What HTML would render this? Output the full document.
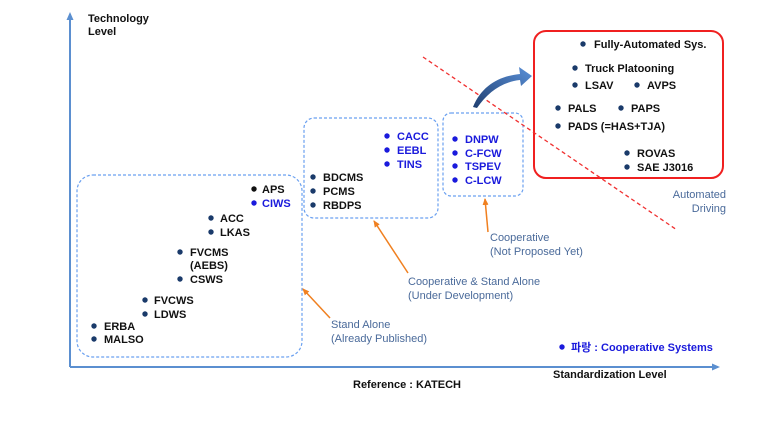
<!DOCTYPE html>
<html><head><meta charset="utf-8"><style>
body{margin:0;background:#fff;}
svg text{font-family:"Liberation Sans","Noto Sans CJK KR",sans-serif;font-weight:bold;font-size:11px;}
.k{fill:#111}.b{fill:#1a1adc}.g{fill:#4a6a9a;font-weight:normal}
</style></head><body>
<svg width="783" height="419" viewBox="0 0 783 419" xmlns="http://www.w3.org/2000/svg">
<defs>
<marker id="ax" markerUnits="userSpaceOnUse" markerWidth="8" markerHeight="8" refX="6" refY="4" orient="auto"><path d="M0,0.5 L8,4 L0,7.5z" fill="#5b8fd0"/></marker>
<marker id="oa" markerUnits="userSpaceOnUse" markerWidth="8" markerHeight="8" refX="6" refY="4" orient="auto"><path d="M0,1 L7,4 L0,7z" fill="#f08020"/></marker>
<linearGradient id="bg" x1="0" y1="1" x2="1" y2="0"><stop offset="0" stop-color="#1f3f70"/><stop offset="1" stop-color="#5a90d8"/></linearGradient>
</defs>
<line x1="70" y1="367" x2="70" y2="14" stroke="#5b8fd0" stroke-width="2" marker-end="url(#ax)"/>
<line x1="70" y1="367" x2="718" y2="367" stroke="#5b8fd0" stroke-width="2" marker-end="url(#ax)"/>
<text x="88" y="22" class="k" font-size="10">Technology</text>
<text x="88" y="35" class="k" font-size="10">Level</text>
<text x="553" y="378" class="k" font-size="10">Standardization Level</text>
<text x="353" y="388" class="k">Reference : KATECH</text>
<g fill="none" stroke="#6aa0f0" stroke-width="1.2" stroke-dasharray="3,2">
<rect x="77" y="175" width="225" height="182" rx="16"/>
<rect x="304" y="118" width="134" height="100" rx="10"/>
<rect x="443" y="113" width="80" height="83" rx="8"/>
</g>
<rect x="534" y="31" width="189" height="147" rx="12" fill="none" stroke="#f02020" stroke-width="2"/>
<line x1="423" y1="57" x2="677" y2="230" stroke="#f03030" stroke-width="1.3" stroke-dasharray="4,3"/>
<path d="M473,107 C482,85 500,76 520,74 L519,67 L532,76 L521,86 L520,80 C502,82 488,92 477,108 Z" fill="url(#bg)"/>
<g stroke="#f08020" stroke-width="1.5" marker-end="url(#oa)">
<line x1="330" y1="318" x2="303" y2="289"/>
<line x1="408" y1="273" x2="374" y2="221"/>
<line x1="488" y1="232" x2="485" y2="199"/>
</g>
<g>
<text x="331" y="328" class="g">Stand Alone</text><text x="331" y="342" class="g">(Already Published)</text>
<text x="408" y="285" class="g">Cooperative &amp; Stand Alone</text><text x="408" y="299" class="g">(Under Development)</text>
<text x="490" y="241" class="g">Cooperative</text><text x="490" y="255" class="g">(Not Proposed Yet)</text>
<text x="726" y="198" class="g" text-anchor="end">Automated</text><text x="726" y="212" class="g" text-anchor="end">Driving</text>
</g>
<g font-size="11">
<circle cx="254" cy="189" r="2.7" fill="#111"/><text x="262" y="193" class="k">APS</text>
<circle cx="254" cy="203" r="2.7" fill="#1a1adc"/><text x="262" y="207" class="b">CIWS</text>
<circle cx="211" cy="218" r="2.7" fill="#1a3a6a"/><text x="220" y="222" class="k">ACC</text>
<circle cx="211" cy="232" r="2.7" fill="#1a3a6a"/><text x="220" y="236" class="k">LKAS</text>
<circle cx="180" cy="252" r="2.7" fill="#1a3a6a"/><text x="190" y="256" class="k">FVCMS</text>
<text x="190" y="269" class="k">(AEBS)</text>
<circle cx="180" cy="279" r="2.7" fill="#1a3a6a"/><text x="190" y="283" class="k">CSWS</text>
<circle cx="145" cy="300" r="2.7" fill="#1a3a6a"/><text x="154" y="304" class="k">FVCWS</text>
<circle cx="145" cy="314" r="2.7" fill="#1a3a6a"/><text x="154" y="318" class="k">LDWS</text>
<circle cx="94" cy="326" r="2.7" fill="#1a3a6a"/><text x="104" y="330" class="k">ERBA</text>
<circle cx="94" cy="339" r="2.7" fill="#1a3a6a"/><text x="104" y="343" class="k">MALSO</text>
<circle cx="313" cy="177" r="2.7" fill="#1a3a6a"/><text x="323" y="181" class="k">BDCMS</text>
<circle cx="313" cy="191" r="2.7" fill="#1a3a6a"/><text x="323" y="195" class="k">PCMS</text>
<circle cx="313" cy="205" r="2.7" fill="#1a3a6a"/><text x="323" y="209" class="k">RBDPS</text>
<circle cx="387" cy="136" r="2.7" fill="#1a1adc"/><text x="397" y="140" class="b">CACC</text>
<circle cx="387" cy="150" r="2.7" fill="#1a1adc"/><text x="397" y="154" class="b">EEBL</text>
<circle cx="387" cy="164" r="2.7" fill="#1a1adc"/><text x="397" y="168" class="b">TINS</text>
<circle cx="455" cy="139" r="2.7" fill="#1a1adc"/><text x="465" y="143" class="b">DNPW</text>
<circle cx="455" cy="153" r="2.7" fill="#1a1adc"/><text x="465" y="157" class="b">C-FCW</text>
<circle cx="455" cy="166" r="2.7" fill="#1a1adc"/><text x="465" y="170" class="b">TSPEV</text>
<circle cx="455" cy="180" r="2.7" fill="#1a1adc"/><text x="465" y="184" class="b">C-LCW</text>
<circle cx="583" cy="44" r="2.7" fill="#1a3a6a"/><text x="594" y="48" class="k">Fully-Automated Sys.</text>
<circle cx="575" cy="68" r="2.7" fill="#1a3a6a"/><text x="585" y="72" class="k">Truck Platooning</text>
<circle cx="575" cy="85" r="2.7" fill="#1a3a6a"/><text x="585" y="89" class="k">LSAV</text>
<circle cx="637" cy="85" r="2.7" fill="#1a3a6a"/><text x="647" y="89" class="k">AVPS</text>
<circle cx="558" cy="108" r="2.7" fill="#1a3a6a"/><text x="568" y="112" class="k">PALS</text>
<circle cx="621" cy="108" r="2.7" fill="#1a3a6a"/><text x="631" y="112" class="k">PAPS</text>
<circle cx="558" cy="126" r="2.7" fill="#1a3a6a"/><text x="568" y="130" class="k">PADS (=HAS+TJA)</text>
<circle cx="627" cy="153" r="2.7" fill="#1a3a6a"/><text x="637" y="157" class="k">ROVAS</text>
<circle cx="627" cy="167" r="2.7" fill="#1a3a6a"/><text x="637" y="171" class="k">SAE J3016</text>
<circle cx="562" cy="347" r="2.7" fill="#1a1adc"/><text x="571" y="351" class="b">파랑 : Cooperative Systems</text>
</g>
</svg>
</body></html>
